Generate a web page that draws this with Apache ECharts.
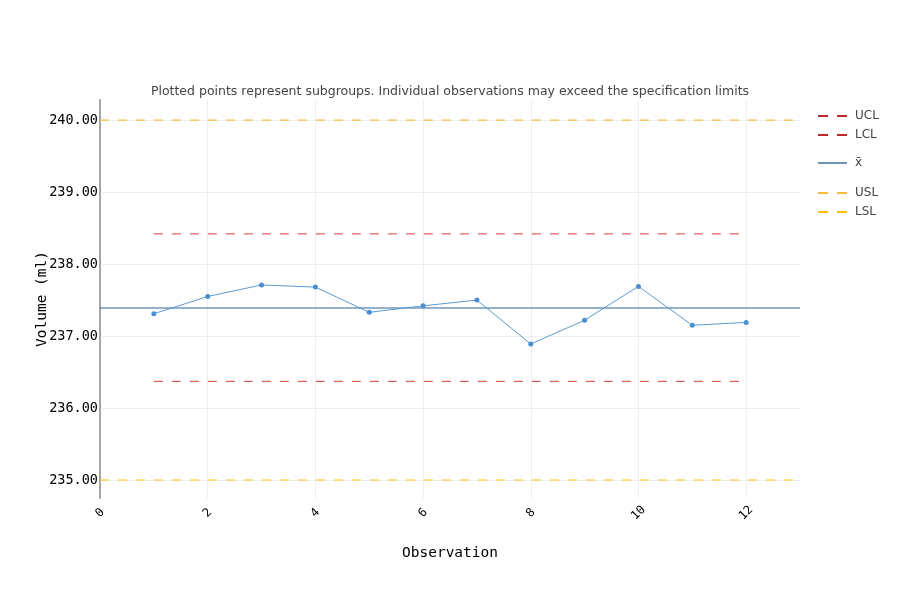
<!DOCTYPE html>
<html><head><meta charset="utf-8">
<script src="https://cdn.jsdelivr.net/npm/echarts@6/dist/echarts.min.js"></script>
<style>html,body{margin:0;padding:0;background:#fff}#c{width:900px;height:600px}</style>
</head><body><div id="c"></div>
<script>
const observations = [1,2,3,4,5,6,7,8,9,10,11,12];
const volumes = [237.31,237.55,237.71,237.68,237.33,237.42,237.50,236.89,237.22,237.69,237.15,237.19];
const ucl = 238.42, lcl = 236.37, center = 237.39, usl = 240.00, lsl = 235.00;
const limitSpanX = [1, 12];
const fullSpanX = [0, 13];
const titleText = 'Plotted points represent subgroups. Individual observations may exceed the specification limits';
const legendNames = ['UCL','LCL','x\u0304','USL','LSL'];

const mono = '"DejaVu Sans Mono", monospace';
const sans = '"DejaVu Sans", verdana, sans-serif';
const dashIcon = 'path://M0,0H10V2H0ZM19,0H29V2H19Z';
const solidIcon = 'path://M0,0H29V1.4H0Z';

function hline(name, y, span, color, type, width, opacity){
  return {name, type:'line', data:[[span[0],y],[span[1],y]], symbol:'none', silent:true,
    lineStyle:{color, type, width, opacity}, itemStyle:{color}, z:2};
}
function leg(name, top, icon, color){
  return {show:true, left:818, top, padding:0, data:[{name, icon, itemStyle:{color, opacity:1}}],
    itemWidth:29, itemHeight:2, textStyle:{fontFamily:sans, fontSize:12, color:'#444', padding:[0,0,0,3]}, selectedMode:false};
}
const chart = echarts.init(document.getElementById('c'), null, {renderer:'canvas'});
chart.setOption({
  animation:false,
  title:{text:titleText, left:'center', top:80, textStyle:{fontFamily:sans, fontSize:12.5, fontWeight:'normal', color:'#444'}},
  grid:{left:100, right:100, top:100, bottom:102, containLabel:false},
  legend:[
    leg(legendNames[0], 110, dashIcon, '#c0282a'),
    leg(legendNames[1], 129, dashIcon, '#c0282a'),
    leg(legendNames[2], 157, solidIcon, '#2f6496'),
    leg(legendNames[3], 187, dashIcon, '#f5bd3c'),
    leg(legendNames[4], 206, dashIcon, '#ffc000')
  ],
  xAxis:{type:'value', min:0, max:13, interval:2, name:'Observation', nameLocation:'middle', nameGap:48,
    nameTextStyle:{fontFamily:mono, fontSize:14.5, color:'#000'},
    axisLine:{show:false}, axisTick:{show:false},
    axisLabel:{rotate:45, margin:15, align:'center', verticalAlign:'middle', fontFamily:mono, fontSize:12, color:'#000', showMaxLabel:false},
    splitLine:{show:true, showMaxLine:false, lineStyle:{color:'#eeeeee', width:1}}},
  yAxis:{type:'value', min:234.75, max:240.28, splitNumber:5, name:'Volume (ml)', nameLocation:'middle', nameGap:50,
    nameMoveOverlap:false,
    nameTextStyle:{fontFamily:mono, fontSize:14.5, color:'#000'},
    axisLine:{show:true, lineStyle:{color:'#a6a6a6', width:2}}, axisTick:{show:false},
    axisLabel:{margin:2, fontFamily:mono, fontSize:13.5, color:'#000', showMinLabel:false, showMaxLabel:false,
      formatter:v=>v.toFixed(2)},
    splitLine:{show:true, showMinLine:false, showMaxLine:false, lineStyle:{color:'#eeeeee', width:1}}},
  series:[
    hline(legendNames[3], usl, fullSpanX, '#f5bd3c', [9,9], 1.6, 0.75),
    hline(legendNames[4], lsl, fullSpanX, '#ffc000', [9,9], 1.6, 0.6),
    hline(legendNames[0], ucl, limitSpanX, '#d62728', [9,9], 1.2, 0.75),
    hline(legendNames[1], lcl, limitSpanX, '#d62728', [9,9], 1.2, 0.75),
    hline(legendNames[2], center, fullSpanX, '#2f6496', 'solid', 1.2, 1),
    {name:'Subgroups', type:'line', data:observations.map((x,i)=>[x,volumes[i]]), symbol:'circle', symbolSize:5,
     lineStyle:{color:'#5b9bd5', width:1}, itemStyle:{color:'#4a8fd0'}, z:5}
  ]
});
</script></body></html>
